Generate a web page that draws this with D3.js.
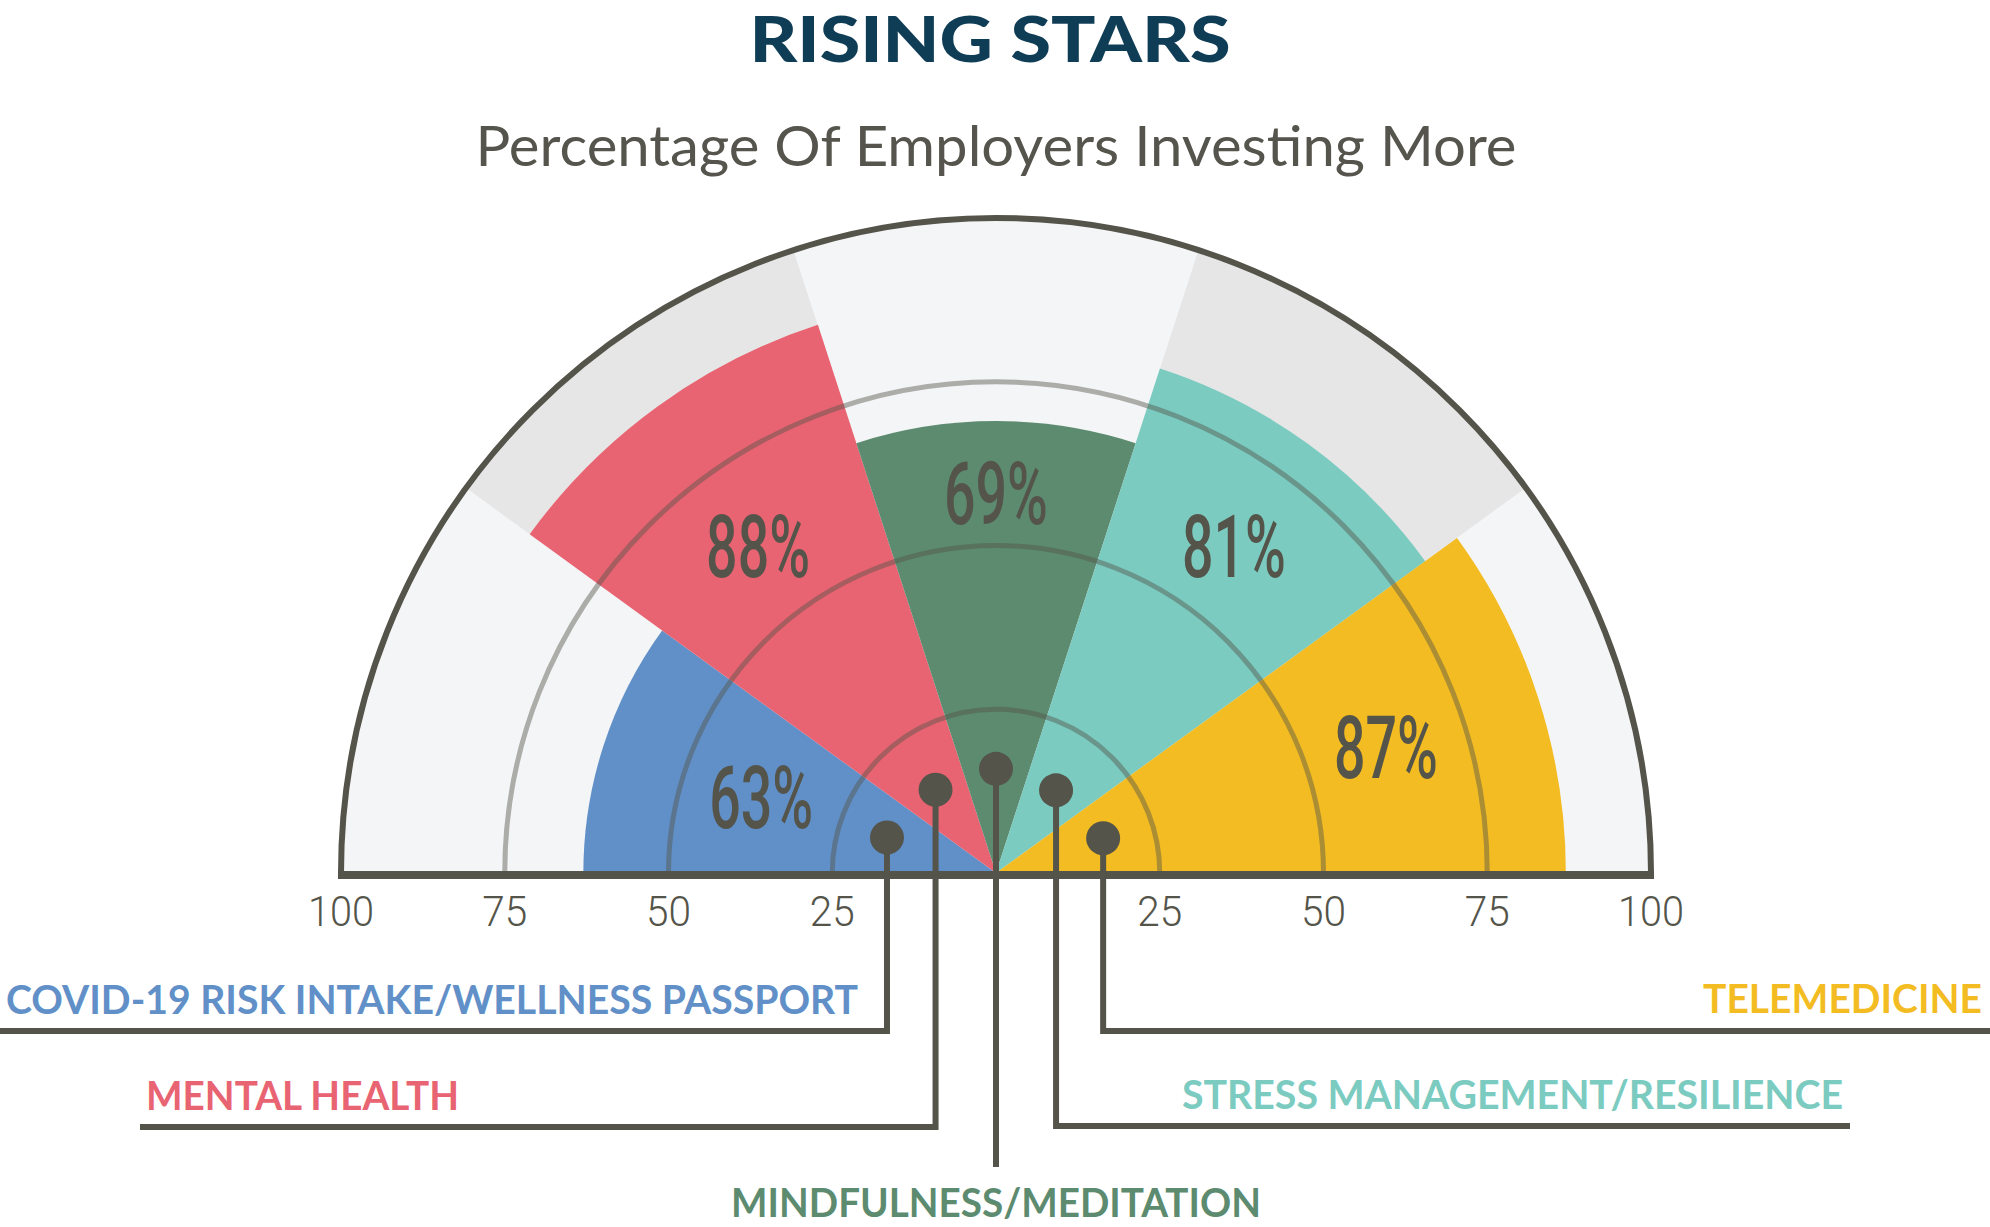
<!DOCTYPE html>
<html>
<head>
<meta charset="utf-8">
<script src="https://cdn.jsdelivr.net/npm/d3@7"></script>
<style>
body { margin: 0; background: #ffffff; }
svg { display: block; }
</style>
</head>
<body>
<svg id="chart" width="1990" height="1227"></svg>
<script>
'use strict';

// data
var arrayCategories = ['COVID-19 RISK INTAKE/WELLNESS PASSPORT', 'MENTAL HEALTH', 'MINDFULNESS/MEDITATION', 'STRESS MANAGEMENT/RESILIENCE', 'TELEMEDICINE'];
var arrayValues = [63, 88, 69, 81, 87];
var arrayTicks = [25, 50, 75, 100];
var strTitle = 'RISING STARS';
var strSubtitle = 'Percentage Of Employers Investing More';

// look
var arrayColors = ['#6190c8', '#e96472', '#5c8b70', '#7bcbc1', '#f3bc22'];
var arrayBgColors = ['#f4f5f7', '#e6e6e6', '#f4f5f7', '#e6e6e6', '#f4f5f7'];
var strDark = '#54544a';

// layout (label radius and pin radius in value units, leader lines in px)
var arrayLabelR = [37.7, 61.8, 58, 61.8, 62.6];
var arrayPinR = [17.5, 15.7, 15.9, 15.6, 17.2];
var arrayLeaderY = [1031, 1127, 1167, 1126, 1031];
var arrayLeaderEnd = [0, 140, null, 1850, 1990];
var arrayNameX = [6, 146, 996, 1843, 1982];
var arrayNameY = [1014, 1110, 1217, 1109, 1013];
var arrayNameAnchor = ['start', 'start', 'middle', 'end', 'end'];
var arrayNameW = [852, 313, 530, 661, 279];

var svg = d3.select('#chart');

var nCx = 996;
var nCy = 873;
var nR = 655;

var rScale = d3.scaleLinear().domain([0, 100]).range([0, nR]);
var aScale = d3.scaleBand().domain(arrayCategories).range([-Math.PI / 2, Math.PI / 2]);

var g = svg.append('g').attr('transform', 'translate(' + nCx + ',' + nCy + ')');

function midAngle(strCat)
{
	return aScale(strCat) + aScale.bandwidth() / 2;
}

// background wedges
var bgArc = d3.arc()
	.innerRadius(0)
	.outerRadius(nR)
	.startAngle(function(d) { return aScale(d); })
	.endAngle(function(d) { return aScale(d) + aScale.bandwidth(); });

g.selectAll('path.bg')
	.data(arrayCategories)
	.enter()
	.append('path')
	.attr('class', 'bg')
	.attr('d', bgArc)
	.attr('fill', function(d, i) { return arrayBgColors[i]; });

// value wedges
var valArc = d3.arc()
	.innerRadius(0)
	.outerRadius(function(d, i) { return rScale(arrayValues[i]); })
	.startAngle(function(d) { return aScale(d); })
	.endAngle(function(d) { return aScale(d) + aScale.bandwidth(); });

g.selectAll('path.val')
	.data(arrayCategories)
	.enter()
	.append('path')
	.attr('class', 'val')
	.attr('d', valArc)
	.attr('fill', function(d, i) { return arrayColors[i]; });

function halfCircle(r)
{
	var p = d3.path();
	p.moveTo(-r, 0);
	p.arc(0, 0, r, Math.PI, 2 * Math.PI);
	return p.toString();
}

// grid rings
g.selectAll('path.grid')
	.data(arrayTicks.slice(0, 3))
	.enter()
	.append('path')
	.attr('class', 'grid')
	.attr('d', function(d) { return halfCircle(rScale(d)); })
	.attr('fill', 'none')
	.attr('stroke', 'rgba(84,84,74,0.45)')
	.attr('stroke-width', 5);

// outer rim + baseline
g.append('path')
	.attr('d', halfCircle(nR))
	.attr('fill', 'none')
	.attr('stroke', strDark)
	.attr('stroke-width', 6);

g.append('line')
	.attr('x1', -nR - 3).attr('x2', nR + 3)
	.attr('y1', 2).attr('y2', 2)
	.attr('stroke', strDark)
	.attr('stroke-width', 8);

// tick labels, mirrored both sides
var arrayTickPos = [];
arrayTicks.forEach(function(t) {
	arrayTickPos.push(-rScale(t));
	arrayTickPos.push(rScale(t));
});
g.selectAll('text.tick')
	.data(arrayTickPos)
	.enter()
	.append('text')
	.attr('class', 'tick')
	.attr('x', function(d) { return d; })
	.attr('y', 53)
	.attr('text-anchor', 'middle')
	.attr('font-family', 'Roboto')
	.attr('font-weight', 300)
	.attr('font-size', 42)
	.attr('fill', strDark)
	.attr('textLength', function(d) { return Math.abs(rScale.invert(Math.abs(d)) - 100) < 1 ? 66 : 45; })
	.attr('lengthAdjust', 'spacingAndGlyphs')
	.text(function(d) { return Math.round(rScale.invert(Math.abs(d))); });

// percentage labels
g.selectAll('text.pct')
	.data(arrayCategories)
	.enter()
	.append('text')
	.attr('class', 'pct')
	.attr('x', function(d, i) { return Math.sin(midAngle(d)) * rScale(arrayLabelR[i]); })
	.attr('y', function(d, i) { return -Math.cos(midAngle(d)) * rScale(arrayLabelR[i]); })
	.attr('dy', '0.355em')
	.attr('text-anchor', 'middle')
	.attr('font-family', 'Roboto')
	.attr('font-weight', 500)
	.attr('font-size', 88)
	.attr('fill', strDark)
	.attr('textLength', 104)
	.attr('lengthAdjust', 'spacingAndGlyphs')
	.text(function(d, i) { return arrayValues[i] + '%'; });

// pins and leader lines (absolute coordinates)
var arrayPins = arrayCategories.map(function(d, i) {
	var a = midAngle(d);
	var r = rScale(arrayPinR[i]);
	return { x: nCx + Math.sin(a) * r, y: nCy - Math.cos(a) * r };
});

svg.selectAll('path.leader')
	.data(arrayPins)
	.enter()
	.append('path')
	.attr('class', 'leader')
	.attr('d', function(p, i) {
		var s = 'M' + p.x + ',' + p.y + 'V' + arrayLeaderY[i];
		if (arrayLeaderEnd[i] !== null) s += 'H' + arrayLeaderEnd[i];
		return s;
	})
	.attr('fill', 'none')
	.attr('stroke', strDark)
	.attr('stroke-width', 6);

svg.selectAll('circle.pin')
	.data(arrayPins)
	.enter()
	.append('circle')
	.attr('class', 'pin')
	.attr('cx', function(p) { return p.x; })
	.attr('cy', function(p) { return p.y; })
	.attr('r', 17)
	.attr('fill', strDark);

// category names
svg.selectAll('text.name')
	.data(arrayCategories)
	.enter()
	.append('text')
	.attr('class', 'name')
	.attr('x', function(d, i) { return arrayNameX[i]; })
	.attr('y', function(d, i) { return arrayNameY[i]; })
	.attr('text-anchor', function(d, i) { return arrayNameAnchor[i]; })
	.attr('font-family', 'Lato')
	.attr('font-weight', 700)
	.attr('font-size', 40)
	.attr('fill', function(d, i) { return arrayColors[i]; })
	.attr('textLength', function(d, i) { return arrayNameW[i]; })
	.attr('lengthAdjust', 'spacingAndGlyphs')
	.text(function(d) { return d; });

// titles
svg.append('text')
	.attr('x', 990)
	.attr('y', 62)
	.attr('text-anchor', 'middle')
	.attr('font-family', 'Lato')
	.attr('font-weight', 900)
	.attr('font-size', 62)
	.attr('fill', '#0f3d55')
	.attr('textLength', 481)
	.attr('lengthAdjust', 'spacingAndGlyphs')
	.text(strTitle);

svg.append('text')
	.attr('x', 996)
	.attr('y', 166)
	.attr('text-anchor', 'middle')
	.attr('font-family', 'Lato')
	.attr('font-weight', 400)
	.attr('font-size', 57)
	.attr('fill', '#55554d')
	.attr('textLength', 1041)
	.attr('lengthAdjust', 'spacingAndGlyphs')
	.text(strSubtitle);
</script>
</body>
</html>
